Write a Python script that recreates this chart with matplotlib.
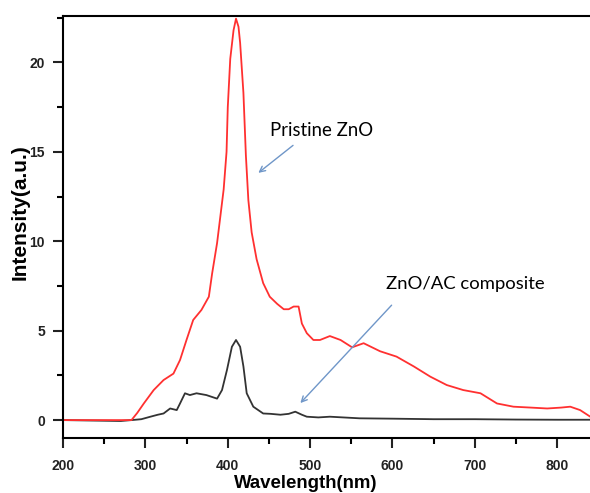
import matplotlib
matplotlib.use('Agg')
import matplotlib.pyplot as plt
from matplotlib.ticker import MultipleLocator

# values
pristine_wl = [200, 240, 283, 290, 298, 310, 322, 334, 342, 350, 358, 368, 377,
               381, 387, 391, 395, 398.5, 400, 403, 407, 410, 413, 415, 419, 422,
               425, 429, 435, 443, 451, 460, 468, 474, 480, 486, 490, 496, 504,
               512, 524, 537, 551, 565, 585, 605, 626, 646, 666, 686, 707, 727,
               747, 768, 788, 805, 816, 828, 840]
pristine_int = [0, 0, 0, 0.4, 0.93, 1.68, 2.24, 2.6, 3.36, 4.5, 5.6, 6.16, 6.9,
                8.2, 9.9, 11.4, 12.9, 15.0, 17.5, 20.2, 21.8, 22.45, 22.0, 21.1,
                18.3, 14.8, 12.3, 10.5, 9.0, 7.66, 6.9, 6.5, 6.2, 6.2, 6.35, 6.35,
                5.4, 4.86, 4.48, 4.48, 4.7, 4.48, 4.07, 4.3, 3.85, 3.55, 3.0, 2.43,
                1.96, 1.68, 1.5, 0.93, 0.75, 0.7, 0.65, 0.7, 0.75, 0.56, 0.2]

composite_wl = [200, 270, 283, 295, 306, 315, 322, 330, 338, 342, 348, 354, 362,
                374, 387, 393, 399, 405, 410, 415, 419, 423, 431, 443, 452, 464,
                474, 482, 490, 496, 510, 524, 560, 600, 650, 700, 750, 800, 840]
composite_int = [0, -0.05, 0, 0.05, 0.19, 0.3, 0.37, 0.65, 0.56, 0.93, 1.5, 1.4,
                 1.5, 1.4, 1.2, 1.68, 2.8, 4.1, 4.48, 4.1, 3.0, 1.5, 0.75, 0.37,
                 0.35, 0.3, 0.35, 0.47, 0.3, 0.19, 0.15, 0.19, 0.1, 0.08, 0.05,
                 0.05, 0.03, 0.02, 0.02]

fig = plt.figure(figsize=(5.9, 4.93), dpi=100)
ax = fig.add_axes([0.107, 0.1116, 0.893, 0.856])

ax.plot(composite_wl, composite_int, color='#333333', lw=1.3)
ax.plot(pristine_wl, pristine_int, color='#ff3030', lw=1.3)

ax.set_xlim(200, 840)
ax.set_ylim(-1, 22.6)
ax.xaxis.set_major_locator(MultipleLocator(100))
ax.xaxis.set_minor_locator(MultipleLocator(50))
ax.yaxis.set_major_locator(MultipleLocator(5))
ax.yaxis.set_minor_locator(MultipleLocator(2.5))

ax.spines['right'].set_visible(False)
for s in ['left', 'bottom', 'top']:
    ax.spines[s].set_linewidth(1.5)

ax.tick_params(which='major', direction='out', length=7, width=1.5,
               labelsize=10, pad=6, colors='#222222')
ax.tick_params(which='minor', direction='out', length=4, width=1.5)
ax.tick_params(axis='x', which='both', top=False)
ax.tick_params(axis='x', which='major', pad=8)
for lab in ax.get_xticklabels() + ax.get_yticklabels():
    lab.set_fontweight('bold')
    lab.set_family('Liberation Sans')

ax.set_xlabel('Wavelength(nm)', fontsize=13.4, fontweight='bold',
              family='Liberation Sans')
ax.set_ylabel('Intensity(a.u.)', fontsize=15, fontweight='bold',
              family='Liberation Sans')
ax.xaxis.set_label_coords(0.461, -0.088)
ax.yaxis.set_label_coords(-0.063, 0.536)

arrow = dict(arrowstyle='->', color='#6f96c8', lw=1.0)
ax.annotate('', xy=(434.5, 13.73), xytext=(481.9, 15.46), arrowprops=arrow)
ax.annotate('', xy=(485.9, 0.84), xytext=(601.3, 6.54), arrowprops=arrow)
ax.text(451.5, 16.19, 'Pristine ZnO', fontsize=13.4, family='Lato',
        va='center', ha='left')
ax.text(592.5, 7.62, 'ZnO/AC composite', fontsize=13.3, family='Lato',
        va='center', ha='left')

fig.savefig('out.png', dpi=100)
